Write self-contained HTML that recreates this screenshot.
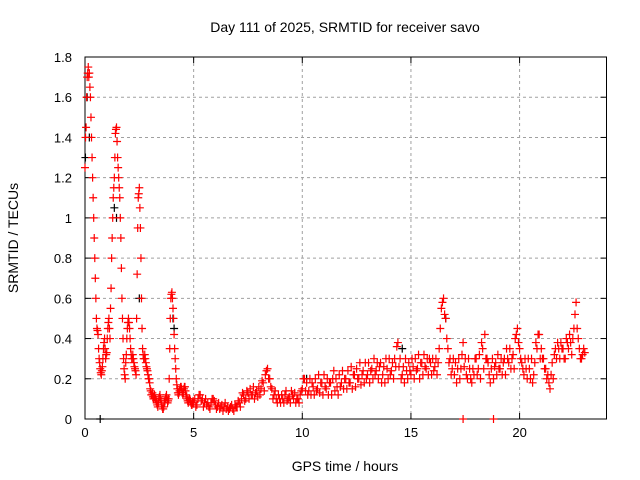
<!DOCTYPE html>
<html><head><meta charset="utf-8"><style>
body{margin:0;background:#fff}
svg{display:block;font-family:"Liberation Sans",sans-serif}
</style></head><body>
<svg id="chart" width="640" height="480">
<rect width="640" height="480" fill="#fff"/>
<g id="grid"></g>
<g id="axes"></g>
<g id="black"></g>
<g id="red"></g>
<text x="345" y="32" font-size="14" text-anchor="middle">Day 111 of 2025, SRMTID for receiver savo</text>
<text x="345" y="471" font-size="14" text-anchor="middle">GPS time / hours</text>
<text x="18" y="238" font-size="14" text-anchor="middle" transform="rotate(-90 18 238)">SRMTID / TECUs</text>
</svg>
<script>
const xTicks=[0,5,10,15,20];
const yTicks=[0,0.2,0.4,0.6,0.8,1,1.2,1.4,1.6,1.8];
const yTickLabels=["0","0.2","0.4","0.6","0.8","1","1.2","1.4","1.6","1.8"];
const earlyStart=0, earlyStep=0.05;
const earlyValues=[1.25,1.45,1.7,1.75,1.72,1.6,1.4,1.2,1.0,0.8,
0.6,0.45,0.42,0.3,0.25,0.22,0.26,0.35,0.4,0.3,
0.33,0.45,0.5,0.4,0.65,0.9,1.1,1.2,1.42,1.45,
1.3,1.2,1.1,0.9,0.6,0.4,0.25,0.2,0.32,0.45,
0.5,0.45,0.35,0.3,0.32,0.28,0.25,0.22,0.72,1.1,
1.15,0.95,0.6,0.35,0.3,0.32,0.28,0.25,0.22,0.2,
0.15,0.12,0.13,0.1,0.12,0.1,0.08,0.06,0.1,0.12,
0.09,0.06,0.05,0.08,0.1,0.12,0.08,0.1,0.35,0.6,
0.63,0.55,0.42,0.3,0.2,0.15,0.12,0.14,0.16,0.15,
0.12,0.15,0.16,0.12,0.1,0.08,0.1,0.09,0.07,0.08];
const early2Start=0.025;
const earlyValues2=[1.4,1.6,1.72,1.7,1.65,1.5,1.3,1.1,0.9,0.7,
0.5,0.44,0.35,0.28,0.23,0.24,0.3,0.38,0.35,0.32,
0.4,0.48,0.45,0.55,0.8,1.0,1.15,1.3,1.44,1.38,
1.25,1.15,1.0,0.75,0.5,0.3,0.22,0.28,0.4,0.48,
0.48,0.4,0.32,0.3,0.3,0.26,0.24,0.5,0.95,1.12,
1.05,0.8,0.45,0.32,0.3,0.3,0.26,0.24,0.2,0.18,
0.14,0.12,0.11,0.11,0.1,0.09,0.07,0.08,0.11,0.1,
0.07,0.05,0.06,0.09,0.11,0.1,0.09,0.2,0.5,0.62,
0.6,0.5,0.35,0.25,0.17,0.13,0.13,0.15,0.16,0.13,
0.13,0.16,0.14,0.11,0.09,0.09,0.1,0.08,0.07,0.09];
const lateStart=5, lateStep=0.1;
const lateValues=[0.08,0.06,0.1,0.12,0.1,0.08,0.07,0.06,0.08,0.1,
0.07,0.06,0.05,0.07,0.06,0.05,0.04,0.06,0.05,0.07,
0.06,0.08,0.1,0.12,0.1,0.13,0.15,0.12,0.1,0.14,
0.16,0.15,0.18,0.22,0.25,0.2,0.15,0.12,0.1,0.12,
0.08,0.1,0.12,0.09,0.11,0.14,0.1,0.08,0.1,0.12,
0.15,0.2,0.18,0.14,0.12,0.16,0.2,0.15,0.13,0.18,
0.22,0.15,0.12,0.18,0.2,0.14,0.16,0.22,0.18,0.15,
0.2,0.24,0.18,0.15,0.22,0.25,0.2,0.17,0.24,0.28,
0.22,0.18,0.25,0.3,0.24,0.2,0.28,0.22,0.18,0.25,
0.3,0.24,0.2,0.26,0.38,0.3,0.22,0.18,0.24,0.28,
0.22,0.26,0.3,0.25,0.2,0.28,0.32,0.25,0.22,0.28,
0.3,0.26,0.22,0.35,0.55,0.6,0.5,0.35,0.3,0.25,
0.22,0.18,0.3,0.25,0.38,0.3,0.2,0.25,0.18,0.22,
0.3,0.25,0.2,0.35,0.42,0.3,0.22,0.25,0.2,0.28,
0.32,0.25,0.22,0.3,0.35,0.28,0.25,0.32,0.4,0.45,
0.35,0.28,0.22,0.25,0.3,0.2,0.18,0.28,0.35,0.42,
0.35,0.3,0.25,0.22,0.15,0.28,0.32,0.3,0.35,0.38,
0.35,0.3,0.38,0.42,0.32,0.45,0.58,0.4,0.3,0.32,
0.33];
const late2Start=5.05;
const lateValues2=[0.1,0.07,0.12,0.09,0.06,0.1,0.08,0.05,0.1,0.09,
0.05,0.08,0.06,0.04,0.08,0.06,0.05,0.07,0.04,0.06,
0.09,0.06,0.13,0.09,0.14,0.1,0.12,0.16,0.13,0.11,
0.12,0.19,0.14,0.24,0.2,0.16,0.1,0.14,0.08,0.1,
0.12,0.08,0.14,0.1,0.08,0.12,0.13,0.1,0.08,0.14,
0.2,0.14,0.12,0.2,0.18,0.12,0.14,0.22,0.18,0.12,
0.16,0.2,0.18,0.12,0.24,0.2,0.12,0.16,0.24,0.2,
0.15,0.18,0.26,0.22,0.16,0.2,0.28,0.22,0.18,0.2,
0.28,0.24,0.2,0.22,0.28,0.26,0.18,0.26,0.3,0.2,
0.22,0.28,0.3,0.36,0.26,0.2,0.26,0.3,0.2,0.24,
0.3,0.2,0.24,0.32,0.28,0.22,0.26,0.3,0.3,0.22,
0.24,0.3,0.28,0.45,0.58,0.52,0.4,0.28,0.22,0.3,
0.28,0.25,0.2,0.32,0.26,0.22,0.3,0.2,0.25,0.3,
0.22,0.32,0.38,0.25,0.3,0.28,0.18,0.3,0.26,0.22,
0.25,0.3,0.28,0.22,0.3,0.35,0.3,0.25,0.42,0.38,
0.3,0.25,0.3,0.2,0.25,0.3,0.22,0.38,0.42,0.3,
0.3,0.25,0.2,0.18,0.22,0.2,0.35,0.38,0.3,0.35,
0.3,0.4,0.35,0.38,0.4,0.52,0.45,0.35,0.3,0.35];
const extraRedTimes=[17.4,18.8];
const extraRedValues=[0,0];
const blackTimes=[0.02,0.1,0.2,0.7,1.35,1.45,2.5,4.05,4.1,10.2,14.6,16.6];
const blackValues=[1.3,1.6,1.4,0,1.05,1.0,0.6,0.5,0.45,0.2,0.35,0.5];

const NS='http://www.w3.org/2000/svg';
const L=85,R=606.5,T=57,B=419,XMAX=24,YMAX=1.8;
const xs=v=>L+(R-L)*v/XMAX, ys=v=>B-(B-T)*v/YMAX;
function mk(tag,parent,attrs){const e=document.createElementNS(NS,tag);for(const k in attrs)e.setAttribute(k,attrs[k]);parent.appendChild(e);return e;}
const grid=document.getElementById('grid'),axes=document.getElementById('axes');
xTicks.forEach(t=>{
  const x=xs(t);
  if(t>0){const g=mk('line',grid,{x1:x,x2:x,y1:T,y2:B,stroke:'#a0a0a0','stroke-dasharray':'3,3'});
  
  }
  mk('line',axes,{x1:x,x2:x,y1:B,y2:B-6,stroke:'#000'});
  mk('line',axes,{x1:x,x2:x,y1:T,y2:T+6,stroke:'#000'});
  const tx=mk('text',axes,{x:x,y:B+18,'font-size':13,'text-anchor':'middle'});tx.textContent=t;
  
  
});
yTicks.forEach((t,i)=>{
  const y=ys(t);
  if(t>0&&t<YMAX){const g=mk('line',grid,{x1:L,x2:R,y1:y,y2:y,stroke:'#a0a0a0','stroke-dasharray':'3,3'});
  
  }
  mk('line',axes,{x1:L,x2:L+6,y1:y,y2:y,stroke:'#000'});
  mk('line',axes,{x1:R,x2:R-6,y1:y,y2:y,stroke:'#000'});
  const tx=mk('text',axes,{x:L-13,y:y+5,'font-size':13,'text-anchor':'end'});tx.textContent=yTickLabels[i];
  
  
});
const fr=mk('rect',axes,{x:L,y:T,width:R-L,height:B-T,fill:'none',stroke:'#000'});


function plus(parent,t,v,color){
  const x=xs(t),y=ys(v);
  const p=mk('path',parent,{d:`M${x-4},${y}h8M${x},${y-4}v8`,stroke:color,'stroke-width':1.2,fill:'none'});
  
  
}
const black=document.getElementById('black'),red=document.getElementById('red');
blackTimes.forEach((t,i)=>plus(black,t,blackValues[i],'#000'));
earlyValues.forEach((v,i)=>plus(red,earlyStart+i*earlyStep,v,'#f00'));
earlyValues2.forEach((v,i)=>plus(red,early2Start+i*earlyStep,v,'#f00'));
lateValues.forEach((v,i)=>plus(red,lateStart+i*lateStep,v,'#f00'));
lateValues2.forEach((v,i)=>plus(red,late2Start+i*lateStep,v,'#f00'));
extraRedTimes.forEach((t,i)=>plus(red,t,extraRedValues[i],'#f00'));
</script>
</body></html>
